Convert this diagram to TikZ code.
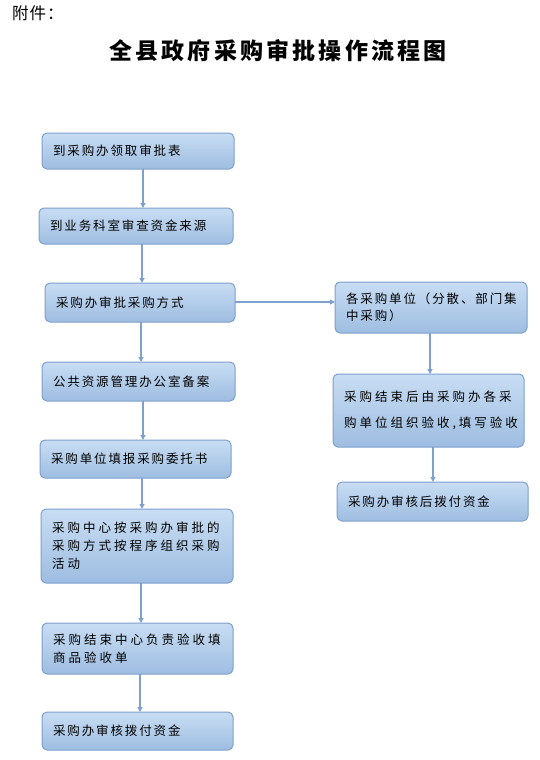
\documentclass[tikz,border=0pt]{standalone}
\usepackage{fontspec}
\setmainfont{Noto Sans CJK SC}
\newfontfamily\boxfont[LetterSpace=15]{Noto Sans CJK SC}
\newfontfamily\boxfontwide[LetterSpace=24]{Noto Sans CJK SC}
\newfontfamily\titlefont[LetterSpace=14]{Noto Sans CJK SC}
\newfontfamily\fjfont[LetterSpace=6]{Noto Sans CJK SC}
\usetikzlibrary{arrows.meta}
\definecolor{boxtop}{RGB}{200,221,243}
\definecolor{boxbot}{RGB}{158,189,225}
\definecolor{boxline}{RGB}{125,160,205}
\tikzset{
  box/.style={draw=boxline, line width=1pt, rounded corners=5pt,
    top color=boxtop, bottom color=boxbot, anchor=north west, align=left,
    inner xsep=11pt, inner ysep=0pt, outer sep=0pt,
    font=\boxfont\fontsize{12.5}{18}\selectfont},
  widebox/.style={font=\boxfontwide\fontsize{12.5}{18}\selectfont},
  arr/.style={draw=boxline, line width=1.3pt, -{Triangle[length=5pt,width=5pt]}}
}
\begin{document}
\begin{tikzpicture}[x=1pt,y=-1pt]
\useasboundingbox[fill=white] (0,0) rectangle (540,760);
\node[anchor=west, inner xsep=0pt, font=\fjfont\fontsize{16.5}{16.5}\selectfont] (fj) at (12,13) {附件：};
\node[font=\titlefont\bfseries\fontsize{23}{23}\selectfont] (title) at (278,51) {全县政府采购审批操作流程图};

\node[box, minimum width=192pt, minimum height=36pt, text width=170pt] (b1) at (42,133) {到采购办领取审批表};
\node[box, minimum width=194pt, minimum height=36pt, text width=172pt] (b2) at (39,208) {到业务科室审查资金来源};
\node[box, minimum width=190pt, minimum height=39pt, text width=168pt] (b3) at (45,283) {采购办审批采购方式};
\node[box, minimum width=193pt, minimum height=39pt, text width=171pt] (b4) at (42,362) {公共资源管理办公室备案};
\node[box, minimum width=191pt, minimum height=38pt, text width=169pt] (b5) at (40,440) {采购单位填报采购委托书};
\node[box, widebox, minimum width=192pt, minimum height=74pt, text width=170pt] (b6) at (41,509) {采购中心按采购办审批的\\采购方式按程序组织采购\\活动};
\node[box, widebox, minimum width=191pt, minimum height=51pt, text width=169pt] (b7) at (42,623) {采购结束中心负责验收填\\商品验收单};
\node[box, minimum width=191pt, minimum height=38pt, text width=169pt] (b8) at (42,712) {采购办审核拨付资金};

\node[box, font=\boxfont\fontsize{12.5}{17}\selectfont, minimum width=192pt, minimum height=51pt, text width=170pt] (r1) at (335,282) {各采购单位（分散、部门集\\中采购）};
\node[box, widebox, font=\boxfontwide\fontsize{12.5}{26}\selectfont, minimum width=191pt, minimum height=73pt, text width=169pt] (r2) at (333,374) {采购结束后由采购办各采\\购单位组织验收,填写验收};
\node[box, minimum width=191pt, minimum height=39pt, text width=169pt] (r3) at (337,482) {采购办审核后拨付资金};

\draw[arr] (b1.south -| 143,0) -- (b2.north -| 143,0);
\draw[arr] (b2.south -| 142,0) -- (b3.north -| 142,0);
\draw[arr] (b3.south -| 141,0) -- (b4.north -| 141,0);
\draw[arr] (b4.south -| 143,0) -- (b5.north -| 143,0);
\draw[arr] (b5.south -| 142,0) -- (b6.north -| 142,0);
\draw[arr] (b6.south -| 141,0) -- (b7.north -| 141,0);
\draw[arr] (b7.south -| 140,0) -- (b8.north -| 140,0);
\draw[arr] (b3.east |- 0,302) -- (r1.west |- 0,302);
\draw[arr] (r1.south -| 430,0) -- (r2.north -| 430,0);
\draw[arr] (r2.south -| 433,0) -- (r3.north -| 433,0);
\end{tikzpicture}
\end{document}
